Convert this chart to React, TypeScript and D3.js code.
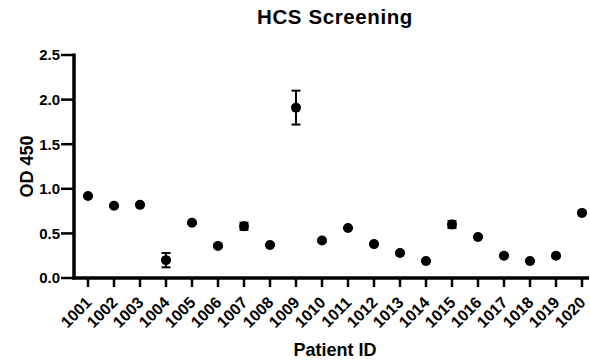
import React from "react";
import * as d3 from "d3";

const patients = ["1001","1002","1003","1004","1005","1006","1007","1008","1009","1010","1011","1012","1013","1014","1015","1016","1017","1018","1019","1020"];
const means = [0.92, 0.81, 0.82, 0.20, 0.62, 0.36, 0.58, 0.37, 1.91, 0.42, 0.56, 0.38, 0.28, 0.19, 0.60, 0.46, 0.25, 0.19, 0.25, 0.73];
const errors = [0.01, 0.01, 0.01, 0.08, 0.01, 0.01, 0.04, 0.01, 0.19, 0.01, 0.01, 0.01, 0.01, 0.01, 0.04, 0.01, 0.01, 0.01, 0.01, 0.01];
const yTicks = [0, 0.5, 1.0, 1.5, 2.0, 2.5];

const W = 590, H = 362;
const left = 74, right = 589, top = 55, bottom = 278;
const font = "Liberation Sans, Arial, sans-serif";

export default function App() {
  const x = d3.scalePoint<string>().domain(patients).range([88, 582]);
  const y = d3.scaleLinear().domain([0, 2.5]).range([bottom, top]);

  return (
    <svg width={W} height={H} style={{ position: "absolute", left: 0, top: 0 }} fontFamily={font}>
      <rect width={W} height={H} fill="#fff" />
      <text x={335} y={24} textAnchor="middle" fontSize={20.5} letterSpacing={0.6} fontWeight="bold">HCS Screening</text>

      {/* y axis */}
      <line x1={left} x2={left} y1={top - 1.5} y2={bottom + 1.5} stroke="#000" strokeWidth={3.5} />
      {yTicks.map((t) => (
        <g key={t}>
          <line x1={left - 13} x2={left} y1={y(t)} y2={y(t)} stroke="#000" strokeWidth={2.5} />
          <text x={left - 14} y={y(t)} dy="0.36em" textAnchor="end" fontSize={15} fontWeight="bold">{t.toFixed(1)}</text>
        </g>
      ))}
      <text transform={`translate(33,${(top + bottom) / 2}) rotate(-90)`} textAnchor="middle" fontSize={18} fontWeight="bold">OD 450</text>

      {/* x axis */}
      <line x1={left - 1.75} x2={right} y1={bottom} y2={bottom} stroke="#000" strokeWidth={3.5} />
      {patients.map((p) => (
        <g key={p}>
          <line x1={x(p)} x2={x(p)} y1={bottom} y2={bottom + 9} stroke="#000" strokeWidth={2.5} />
          <text transform={`translate(${x(p)! + 0.5},${bottom + 21.5}) rotate(-45)`} textAnchor="end" dy="0.36em" fontSize={16} fontWeight="bold">{p}</text>
        </g>
      ))}
      <text x={335} y={356} textAnchor="middle" fontSize={18} fontWeight="bold">Patient ID</text>

      {/* points with error bars */}
      {patients.map((p, i) => {
        const cx = x(p)!;
        const hi = y(means[i] + errors[i]);
        const lo = y(means[i] - errors[i]);
        return (
          <g key={p}>
            <line x1={cx} x2={cx} y1={hi} y2={lo} stroke="#000" strokeWidth={2} />
            <line x1={cx - 4.5} x2={cx + 4.5} y1={hi} y2={hi} stroke="#000" strokeWidth={2} />
            <line x1={cx - 4.5} x2={cx + 4.5} y1={lo} y2={lo} stroke="#000" strokeWidth={2} />
            <circle cx={cx} cy={y(means[i])} r={5} fill="#000" />
          </g>
        );
      })}
    </svg>
  );
}
